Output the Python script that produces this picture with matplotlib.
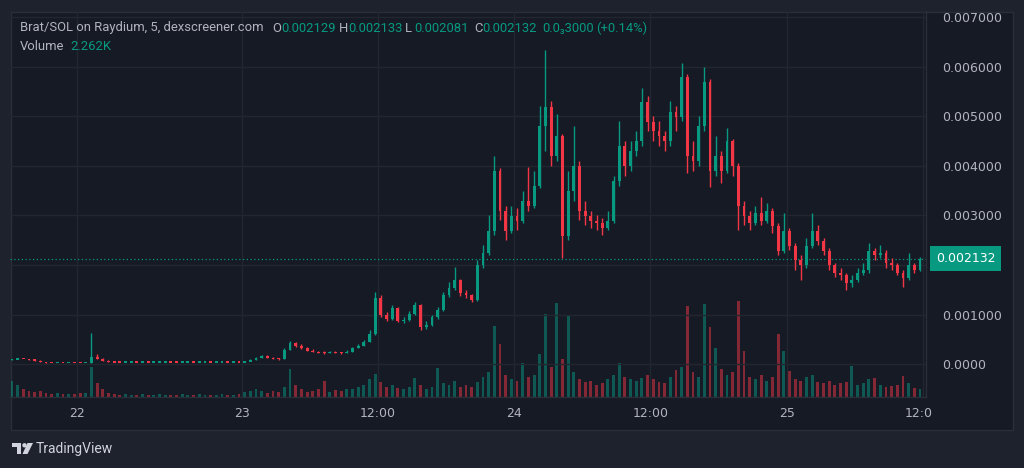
import matplotlib
matplotlib.use('Agg')
import matplotlib.pyplot as plt
from matplotlib.patches import Rectangle, Circle, Polygon
from matplotlib.transforms import blended_transform_factory
import numpy as np

W, H = 1024, 468

# Brat/SOL, resampled to 30 min candles, prices in units of 1e-6 SOL
first_open = 95
closes = [100, 110, 105, 95, 80, 50, 30, 25, 28, 26,
          27, 25, 24, 25, 150, 120, 80, 45, 42, 40,
          40, 42, 40, 41, 40, 40, 42, 45, 42, 40,
          40, 41, 40, 40, 42, 40, 40, 41, 40, 42,
          40, 60, 100, 140, 180, 130, 110, 105, 300, 430,
          380, 330, 280, 260, 240, 230, 250, 240, 230, 260,
          330, 380, 450, 620, 1350, 1000, 920, 1150, 880, 900,
          1020, 1200, 750, 800, 950, 1100, 1400, 1550, 1700, 1450,
          1400, 1300, 2000, 2250, 2700, 3900, 3100, 2700, 3000, 2900,
          3300, 3200, 3600, 4800, 5200, 4200, 4600, 2600, 3500, 4000,
          3100, 3000, 2900, 2850, 2750, 2900, 3700, 4400, 4000, 4300,
          4500, 5300, 4900, 4700, 4600, 4500, 5100, 5000, 5800, 4200,
          4100, 4800, 5700, 3900, 4200, 3900, 4500, 4000, 3200, 3000,
          2850, 3050, 2900, 3100, 2800, 2300, 2700, 2400, 2100, 2000,
          2400, 2700, 2500, 2300, 2000, 1850, 1800, 1650, 1700, 1850,
          1900, 2300, 2200, 2250, 2050, 2000, 1850, 1750, 2000, 1900,
          2132]
highs = [115, 120, 115, 108, 98, 82, 52, 32, 32, 30,
         30, 29, 28, 28, 630, 200, 125, 85, 47, 44,
         44, 46, 45, 44, 44, 43, 46, 50, 48, 45,
         43, 44, 44, 43, 46, 45, 43, 44, 44, 46,
         45, 70, 110, 150, 195, 185, 140, 120, 320, 470,
         450, 400, 340, 300, 275, 260, 270, 265, 255, 290,
         350, 400, 480, 700, 1460, 1400, 1050, 1200, 1160, 960,
         1080, 1250, 1210, 880, 990, 1150, 1450, 1650, 1960, 1720,
         1500, 1420, 2100, 2400, 3000, 4200, 3950, 3200, 3200, 3150,
         3500, 3970, 3900, 5200, 6330, 5300, 5050, 4650, 3900, 4800,
         4100, 3300, 3100, 3000, 2950, 3100, 3800, 4900, 4500, 4500,
         4700, 5570, 5400, 5000, 4900, 4700, 5300, 5200, 6070, 5850,
         4500, 5000, 6000, 5750, 4600, 4300, 4760, 4550, 4050, 3300,
         3100, 3200, 3370, 3250, 3150, 2850, 3050, 2750, 2450, 2200,
         2550, 3050, 2800, 2550, 2350, 2050, 1950, 1850, 1800, 1950,
         2050, 2450, 2350, 2400, 2300, 2150, 2050, 1900, 2250, 2050,
         2160]
lows = [90, 98, 100, 90, 75, 45, 25, 20, 22, 22,
        22, 20, 20, 20, 20, 110, 70, 40, 38, 37,
        37, 38, 37, 38, 37, 37, 38, 40, 40, 37,
        37, 38, 37, 37, 38, 37, 37, 38, 37, 38,
        37, 38, 58, 95, 135, 120, 100, 95, 100, 290,
        350, 310, 260, 240, 225, 215, 220, 225, 215, 225,
        250, 320, 370, 440, 600, 950, 880, 900, 850, 840,
        880, 1000, 700, 720, 780, 920, 1080, 1350, 1500, 1380,
        1330, 1250, 1280, 1950, 2200, 2600, 2900, 2500, 2650, 2700,
        2850, 3100, 3150, 3550, 4300, 4000, 4100, 2150, 2500, 3300,
        2900, 2800, 2750, 2700, 2600, 2700, 2850, 3600, 3800, 3900,
        4200, 4400, 4700, 4500, 4400, 4300, 4400, 4700, 4900, 3850,
        3900, 4000, 4700, 3570, 3800, 3650, 3850, 3800, 2700, 2800,
        2700, 2800, 2800, 2850, 2650, 2200, 2250, 2300, 1900, 1700,
        1950, 2350, 2400, 2200, 1900, 1750, 1700, 1500, 1550, 1650,
        1800, 1850, 2100, 2150, 1950, 1900, 1800, 1550, 1700, 1850,
        1880]
volumes = [16, 12, 8, 6, 5, 6, 4, 3, 4, 3,
           3, 3, 4, 4, 30, 14, 8, 4, 3, 2,
           3, 2, 2, 3, 2, 2, 3, 2, 2, 2,
           3, 2, 2, 3, 2, 2, 2, 3, 2, 2,
           3, 5, 6, 8, 6, 4, 6, 5, 10, 28,
           12, 8, 5, 6, 8, 16, 5, 7, 6, 8,
           8, 10, 12, 18, 23, 15, 10, 12, 9, 8,
           10, 19, 12, 8, 10, 29, 14, 12, 16, 10,
           12, 10, 15, 20, 25, 71, 53, 22, 18, 16,
           34, 20, 22, 43, 83, 30, 94, 38, 82, 25,
           18, 15, 16, 12, 14, 18, 22, 34, 20, 18,
           16, 19, 22, 18, 15, 14, 20, 27, 30, 91,
           25, 20, 93, 70, 49, 28, 22, 25, 96, 46,
           20, 18, 22, 16, 20, 63, 46, 26, 18, 16,
           20, 22, 15, 14, 16, 12, 14, 15, 31, 12,
           14, 18, 19, 12, 10, 11, 12, 21, 14, 9,
           8]

time_ticks = [11.5, 40.5, 64.5, 88.5, 112.5, 136.5, 160.5]
time_labels = ['22', '23', '12:00', '24', '12:00', '25', '12:00']
price_ticks = [0, 1000, 2000, 3000, 4000, 5000, 6000, 7000]
price_labels = ['0.0000', '0.001000', '0.002000', '0.003000',
                '0.004000', '0.005000', '0.006000', '0.007000']

BG = '#1e222d'
PANEL = '#161a25'
LINE = '#2a2e39'
GRID = '#22262f'
TXT = '#b2b5be'
UP = '#089981'
DN = '#f23645'

plt.rcParams['font.family'] = ['Roboto', 'DejaVu Sans']
AXF = 'DejaVu Sans'

fig = plt.figure(figsize=(W / 100, H / 100), dpi=100)
fig.patch.set_facecolor(BG)


def frac(x0, y0, x1, y1):
    return [x0 / W, 1 - y1 / H, (x1 - x0) / W, (y1 - y0) / H]


bg = fig.add_axes([0, 0, 1, 1], zorder=-5)
bg.set_xlim(0, W)
bg.set_ylim(H, 0)
bg.axis('off')
bg.add_patch(Rectangle((10.5, 11.5), 1002, 418, fc=PANEL, ec=LINE, lw=1))

vax = fig.add_axes(frac(10, 11, 926, 397), zorder=1)
ax = fig.add_axes(frac(10, 11, 926, 397), zorder=2, sharex=vax)
ax.patch.set_visible(False)
vax.patch.set_visible(False)

c = np.array(closes) * 1e-6
o = np.r_[first_open, closes[:-1]] * 1e-6
hi = np.array(highs) * 1e-6
lo = np.array(lows) * 1e-6
idx = np.arange(len(c))
col = np.where(c >= o, UP, DN)

# volume
vax.bar(idx, volumes, width=0.5, color=col, alpha=0.5, lw=0)
vax.set_ylim(0, 386)
vax.axis('off')

# candles
ax.vlines(idx, lo, hi, colors=col, lw=1.0, zorder=3)
body = np.maximum(np.abs(c - o), 24e-6)
ax.bar(idx, body, bottom=np.minimum(o, c) - 6e-6, width=0.5, color=col, lw=0, zorder=3)

ax.set_xlim(-0.35, 161.06)
ax.set_ylim(-0.659e-3, 7.122e-3)

ax.set_yticks(np.array(price_ticks) * 1e-6)
ax.set_yticklabels(price_labels, family=AXF)
ax.yaxis.tick_right()
ax.tick_params(axis='y', length=0, pad=11.5, labelsize=9, labelcolor=TXT)
ax.set_xticks(time_ticks)
ax.set_xticklabels(time_labels, family=AXF)
ax.tick_params(axis='x', length=0, pad=7, labelsize=9, labelcolor=TXT)
ax.grid(True, color=GRID, lw=1)
ax.set_axisbelow(True)
for s in ['top', 'left']:
    ax.spines[s].set_visible(False)
for s in ['right', 'bottom']:
    ax.spines[s].set_color(LINE)
    ax.spines[s].set_linewidth(1)

# last price line and label
ax.axhline(c[-1], color=UP, ls=(0, (1, 2)), lw=0.9, zorder=2)
tr = blended_transform_factory(ax.transAxes, ax.transData)
ax.text(1 + 10 / 916, c[-1], '%.6f' % c[-1], transform=tr, ha='left', va='center',
        color='white', fontsize=9, family=AXF,
        bbox=dict(boxstyle='square,pad=0.45', fc=UP, ec='none'),
        clip_on=False, zorder=6)

# overlay in pixel coordinates
fg = fig.add_axes([0, 0, 1, 1], zorder=10)
fg.patch.set_visible(False)
fg.set_xlim(0, W)
fg.set_ylim(H, 0)
fg.axis('off')
fg.add_patch(Rectangle((932, 398), 80, 31, fc=PANEL, ec='none'))

hs = 9.4
fg.text(20, 28, 'Brat/SOL on Raydium, 5, dexscreener.com', color=TXT,
        fontsize=hs, va='center')
parts = [(272, 'O', TXT), (281, '0.002129', UP), (339, 'H', TXT), (348, '0.002133', UP),
         (405, 'L', TXT), (414, '0.002081', UP), (474, 'C', TXT), (482, '0.002132', UP),
         (542, '0.0\u20833000', UP), (596, '(+0.14%)', UP)]
for x, s, cc in parts:
    fg.text(x, 28, s, color=cc, fontsize=hs, va='center')
fg.text(20, 46, 'Volume', color=TXT, fontsize=hs, va='center')
fg.text(70, 46, '2.262K', color=UP, fontsize=hs, va='center')

# TradingView logo
LOGO = '#d1d4dc'
fg.add_patch(Rectangle((12, 443), 9, 4, fc=LOGO, ec='none'))
fg.add_patch(Rectangle((17, 443), 4, 11, fc=LOGO, ec='none'))
fg.add_patch(Circle((24.5, 445.3), 2.2, fc=LOGO, ec='none'))
fg.add_patch(Polygon([(27.5, 443), (33, 443), (27.5, 454), (22.5, 454)], fc=LOGO, ec='none'))
fg.text(36, 449, 'TradingView', color=LOGO, fontsize=10, va='center')

fig.savefig('out.png', dpi=100, facecolor=BG)
